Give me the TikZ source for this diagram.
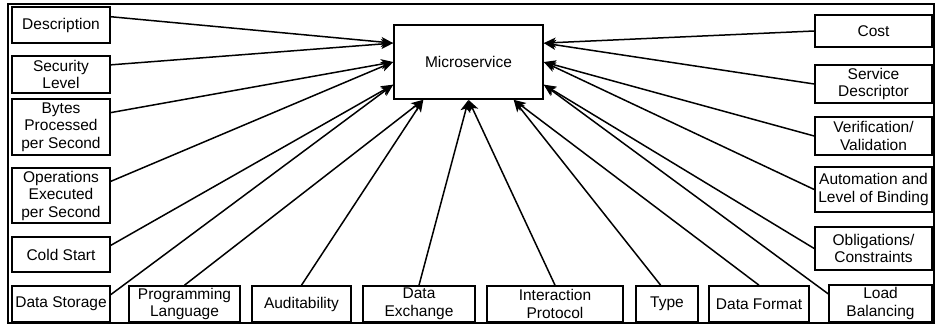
\documentclass[tikz,border=0pt]{standalone}
\usepackage{fontspec}
\setmainfont{Liberation Sans}
\usetikzlibrary{arrows.meta,calc}

\tikzset{
  box/.style={draw, line width=1.6pt, fill=white, align=center, inner sep=0pt,
    font=\fontsize{15.5}{17.5}\selectfont},
  conn/.style={line width=1.5pt, -{Stealth[length=12pt,width=10pt,inset=3pt]}}
}

\begin{document}
\begin{tikzpicture}[x=1pt,y=-1pt]
\useasboundingbox (0,0) rectangle (936,329);
\draw[line width=2pt] (8,4) rectangle (934,323);

% the centre box
\node[box, minimum width=149pt, minimum height=74pt] (micro) at (468.5,62) {Microservice};

% left column
\node[box, minimum width=98pt, minimum height=36pt] (desc) at (61,25) {Description};
\node[box, minimum width=98pt, minimum height=37pt] (seclvl) at (61,74.5) {Security\\Level};
\node[box, minimum width=98pt, minimum height=56pt] (bytes) at (61,127) {Bytes\\Processed\\per Second};
\node[box, minimum width=98pt, minimum height=55pt] (opsexec) at (61,195.5) {Operations\\Executed\\per Second};
\node[box, minimum width=98pt, minimum height=35pt] (coldstart) at (61,254.5) {Cold Start};
\node[box, minimum width=98pt, minimum height=36pt] (datastore) at (61,304) {Data Storage};

% bottom row
\node[box, minimum width=111pt, minimum height=36pt] (proglang) at (184.5,304) {Programming\\Language};
\node[box, minimum width=99pt, minimum height=36pt] (audit) at (301.5,304) {Auditability};
\node[box, minimum width=112pt, minimum height=36pt] (dataexch) at (419,304) {Data\\Exchange};
\node[box, minimum width=136pt, minimum height=36pt] (interproto) at (555,304) {Interaction\\Protocol};
\node[box, minimum width=62pt, minimum height=36pt] (type) at (667,304) {Type};
\node[box, minimum width=100pt, minimum height=36pt] (datafmt) at (759,304) {Data Format};
\node[box, minimum width=103pt, minimum height=37pt] (loadbal) at (880.5,303.5) {Load\\Balancing};

% right column
\node[box, minimum width=117pt, minimum height=32pt] (cost) at (873.5,31) {Cost};
\node[box, minimum width=117pt, minimum height=38pt] (servdesc) at (873.5,84) {Service\\Descriptor};
\node[box, minimum width=117pt, minimum height=38pt] (verif) at (873.5,136) {Verification/\\Validation};
\node[box, minimum width=117pt, minimum height=45pt] (autom) at (873.5,189.5) {Automation and\\Level of Binding};
\node[box, minimum width=117pt, minimum height=43pt] (oblig) at (873.5,248.5) {Obligations/\\Constraints};

% ports on the centre box
\coordinate (mw1) at ($(micro.north west)!0.25!(micro.south west)$);
\coordinate (mw2) at ($(micro.north west)!0.5!(micro.south west)$);
\coordinate (mw3) at ($(micro.north west)!0.8!(micro.south west)$);
\coordinate (ms1) at ($(micro.south west)!0.2!(micro.south east)$);
\coordinate (ms2) at ($(micro.south west)!0.5!(micro.south east)$);
\coordinate (ms3) at ($(micro.south west)!0.8!(micro.south east)$);
\coordinate (me1) at ($(micro.north east)!0.25!(micro.south east)$);
\coordinate (me2) at ($(micro.north east)!0.5!(micro.south east)$);
\coordinate (me3) at ($(micro.north east)!0.8!(micro.south east)$);

\draw[conn] ($(desc.north east)!0.28!(desc.south east)$) -- (mw1);
\draw[conn] ($(seclvl.north east)!0.25!(seclvl.south east)$) -- (mw1);
\draw[conn] ($(bytes.north east)!0.25!(bytes.south east)$) -- (mw2);
\draw[conn] ($(opsexec.north east)!0.25!(opsexec.south east)$) -- (mw2);
\draw[conn] ($(coldstart.north east)!0.25!(coldstart.south east)$) -- (mw3);
\draw[conn] ($(datastore.north east)!0.25!(datastore.south east)$) -- (mw3);

\draw[conn] (proglang.north) -- (ms1);
\draw[conn] (audit.north) -- (ms1);
\draw[conn] (dataexch.north) -- (ms2);
\draw[conn] (interproto.north) -- (ms2);
\draw[conn] ($(type.north west)!0.4!(type.north east)$) -- (ms3);
\draw[conn] (datafmt.north) -- (ms3);

\draw[conn] (cost.west) -- (me1);
\draw[conn] (servdesc.west) -- (me1);
\draw[conn] (verif.west) -- (me2);
\draw[conn] (autom.west) -- (me2);
\draw[conn] (oblig.west) -- (me3);
\draw[conn] ($(loadbal.north west)!0.25!(loadbal.south west)$) -- (me3);
\end{tikzpicture}
\end{document}
